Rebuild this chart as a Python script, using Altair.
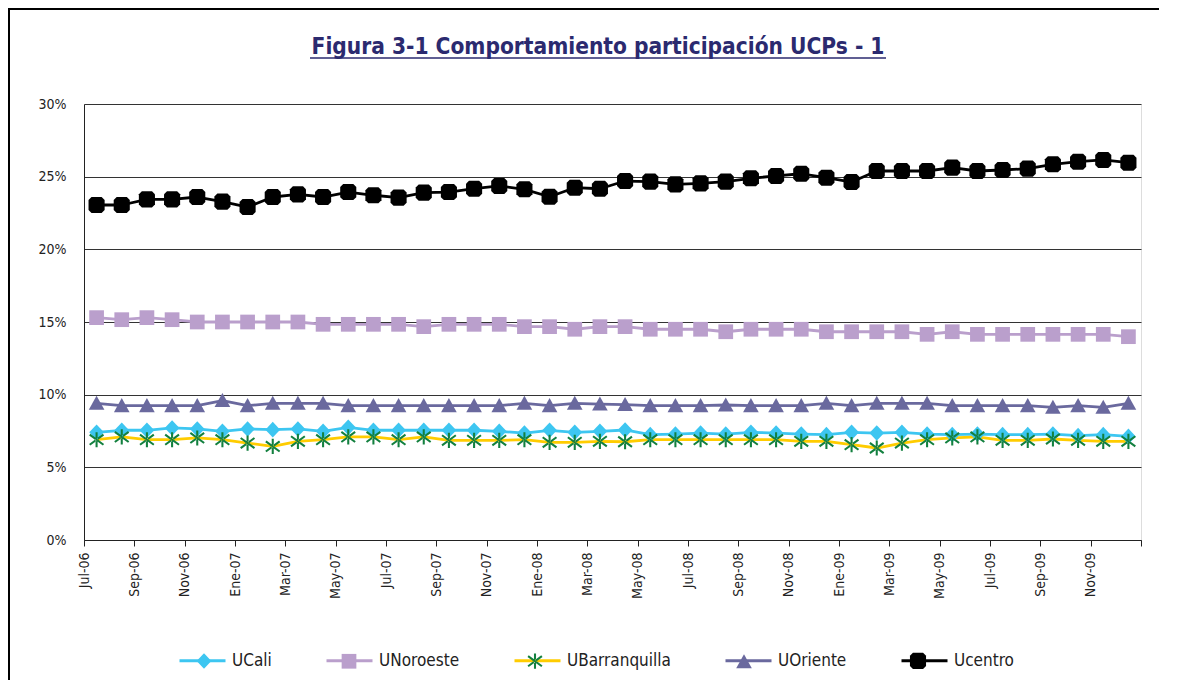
import altair as alt
import pandas as pd

months = ["Jul-06", "Ago-06", "Sep-06", "Oct-06", "Nov-06", "Dic-06",
          "Ene-07", "Feb-07", "Mar-07", "Abr-07", "May-07", "Jun-07",
          "Jul-07", "Ago-07", "Sep-07", "Oct-07", "Nov-07", "Dic-07",
          "Ene-08", "Feb-08", "Mar-08", "Abr-08", "May-08", "Jun-08",
          "Jul-08", "Ago-08", "Sep-08", "Oct-08", "Nov-08", "Dic-08",
          "Ene-09", "Feb-09", "Mar-09", "Abr-09", "May-09", "Jun-09",
          "Jul-09", "Ago-09", "Sep-09", "Oct-09", "Nov-09", "Dic-09"]
tick_labels = months[::2]
y_ticks = [0, 5, 10, 15, 20, 25, 30]

series = ["UCali", "UNoroeste", "UBarranquilla", "UOriente", "Ucentro"]

ucali = [7.41, 7.55, 7.55, 7.71, 7.64, 7.48, 7.64, 7.59, 7.64, 7.48, 7.75, 7.55,
         7.55, 7.55, 7.55, 7.55, 7.48, 7.36, 7.55, 7.41, 7.48, 7.57,
         7.25, 7.29, 7.36, 7.29, 7.41, 7.36, 7.29, 7.25, 7.41, 7.36, 7.41, 7.29,
         7.25, 7.29, 7.25, 7.25, 7.29, 7.18, 7.25, 7.13]
unoroeste = [15.30, 15.16, 15.30, 15.16, 15.00, 15.00, 15.00, 15.00, 15.00, 14.84,
             14.84, 14.84, 14.84, 14.68, 14.84, 14.84, 14.84, 14.68, 14.68, 14.50,
             14.68, 14.68, 14.50, 14.50, 14.50, 14.33, 14.50, 14.50, 14.50, 14.33,
             14.33, 14.33, 14.33, 14.15, 14.33, 14.15, 14.15, 14.15, 14.15, 14.15,
             14.15, 13.99]
ubarranquilla = [6.90, 7.09, 6.90, 6.90, 7.02, 6.90, 6.67, 6.44, 6.79, 6.90, 7.09,
                 7.09, 6.90, 7.09, 6.86, 6.86, 6.86, 6.90, 6.72, 6.72, 6.79, 6.76,
                 6.90, 6.90, 6.90, 6.90, 6.90, 6.90, 6.79, 6.79, 6.56, 6.33, 6.67,
                 6.90, 7.02, 7.09, 6.86, 6.86, 6.95, 6.86, 6.79, 6.79]
uoriente = [9.40, 9.24, 9.24, 9.24, 9.24, 9.59, 9.24, 9.40, 9.40, 9.40, 9.24, 9.24,
            9.24, 9.24, 9.24, 9.24, 9.24, 9.40, 9.24, 9.40, 9.35, 9.32,
            9.24, 9.24, 9.24, 9.29, 9.24, 9.24, 9.24, 9.40, 9.24, 9.40, 9.40, 9.40,
            9.24, 9.24, 9.24, 9.24, 9.13, 9.24, 9.13, 9.40]
ucentro = [23.05, 23.05, 23.44, 23.44, 23.60, 23.28, 22.91, 23.60, 23.78, 23.60,
           23.94, 23.72, 23.56, 23.90, 23.94, 24.17, 24.36, 24.13, 23.62, 24.24,
           24.17, 24.70, 24.66, 24.47, 24.54, 24.66, 24.89, 25.05, 25.20, 24.93,
           24.63, 25.39, 25.39, 25.39, 25.62, 25.39, 25.46, 25.55, 25.85, 26.03,
           26.15, 25.96]

line_colors = ["#3DC6F1", "#BA9FCC", "#FFCC00", "#6A699E", "#000000"]
marker_colors = ["#3DC6F1", "#BA9FCC", "#13803F", "#6A699E", "#000000"]
marker_paths = [
    "M0,-0.34L0.32,0L0,0.34L-0.32,0Z",
    "M-0.32,-0.32L0.32,-0.32L0.32,0.32L-0.32,0.32Z",
    ("M-0.045,-0.33L0.045,-0.33L0.045,0.33L-0.045,0.33Z"
     "M-0.3266,-0.1837L-0.2734,-0.2563L0.3266,0.1837L0.2734,0.2563Z"
     "M-0.2734,0.2563L0.3266,-0.1837L0.2734,-0.2563L-0.3266,0.1837Z"),
    "M0,-0.33L0.34,0.28L-0.34,0.28Z",
    "M-0.22,-0.35L0.22,-0.35L0.35,-0.22L0.35,0.22L0.22,0.35L-0.22,0.35L-0.35,0.22L-0.35,-0.22Z",
]

rows = []
for name, vals in zip(series, [ucali, unoroeste, ubarranquilla, uoriente, ucentro]):
    for i, (m, v) in enumerate(zip(months, vals)):
        rows.append({"serie": name, "mes": m, "pos": i + 0.5, "valor": v})
df = pd.DataFrame(rows)

FONT = "'DejaVu Sans Condensed', 'Liberation Sans', Arial, sans-serif"
INK = "#222222"
NAVY = "#2B2A6F"
SW = 2.8

tick_arr = "[" + ",".join(f"'{t}'" for t in tick_labels) + "]"

x_enc = alt.X(
    "pos:Q", title=None,
    scale=alt.Scale(domain=[0, 42], nice=False, zero=False),
    axis=alt.Axis(values=list(range(0, 43, 2)),
                  labelExpr=f"{tick_arr}[datum.value/2] || ''",
                  labelAngle=270, labelAlign="right", labelBaseline="middle",
                  labelPadding=6, labelFont=FONT, labelFontSize=14,
                  labelColor=INK, labelFlush=False, labelOverlap=False,
                  tickSize=6, tickColor=INK, domainColor=INK, grid=False),
)
y_enc = alt.Y(
    "valor:Q", title=None,
    scale=alt.Scale(domain=[0, 30], nice=False, zero=True),
    axis=alt.Axis(values=y_ticks, labelExpr="datum.value + '%'",
                  labelFont=FONT, labelFontSize=14, labelColor=INK,
                  labelPadding=18, tickSize=0, domainColor=INK,
                  grid=True, gridColor="#333333", gridWidth=1),
)

leg_base = dict(title=None, orient="none", legendY=532,
                direction="horizontal", symbolSize=2116, symbolStrokeWidth=SW,
                labelFont=FONT, labelFontSize=17, labelColor=INK, labelOffset=5,
                padding=0, symbolOpacity=1)

lines = alt.Chart(df).mark_line(strokeJoin="round", strokeWidth=SW).encode(
    x=x_enc, y=y_enc,
    color=alt.Color("serie:N", scale=alt.Scale(domain=series, range=line_colors),
                    legend=alt.Legend(symbolType="stroke", legendX=94,
                                      columnPadding=48, **leg_base)),
)

legend_marks = alt.Legend(labelOpacity=0, legendX=95.5, columnPadding=51, **leg_base)
points = alt.Chart(df).transform_calculate(marca="datum.serie").mark_point(
    filled=True, opacity=1, size=2116, strokeWidth=SW
).encode(
    x=x_enc, y=y_enc,
    color=alt.Color("marca:N", scale=alt.Scale(domain=series, range=marker_colors),
                    legend=legend_marks),
    shape=alt.Shape("marca:N", scale=alt.Scale(domain=series, range=marker_paths),
                    legend=legend_marks),
)

deco = alt.Data(values=[{"k": 1}])
frame_top = alt.Chart(deco).mark_rule(color="#000000", strokeWidth=2).encode(
    x=alt.value(-76), x2=alt.value(1075), y=alt.value(-95)
)
frame_left = alt.Chart(deco).mark_rule(color="#000000", strokeWidth=2).encode(
    x=alt.value(-75), y=alt.value(-96), y2=alt.value(580)
)
title = alt.Chart(deco).mark_text(
    text="Figura 3-1 Comportamiento participación UCPs - 1",
    font=FONT, fontSize=22.5, fontWeight="bold", color=NAVY,
    align="center", baseline="alphabetic",
).encode(x=alt.value(514), y=alt.value(-50))
underline = alt.Chart(deco).mark_rule(color=NAVY, strokeWidth=1.5).encode(
    x=alt.value(226), x2=alt.value(802), y=alt.value(-46)
)

chart = alt.layer(frame_top, frame_left, title, underline, lines, points).resolve_scale(
    color="independent", shape="independent"
).resolve_legend(color="independent", shape="independent").properties(
    width=1057, height=436,
    padding={"left": 76, "top": 96, "right": 24, "bottom": 140},
    autosize=alt.AutoSizeParams(type="none"),
).configure_view(stroke=INK, strokeWidth=1).configure(background="white")

chart.save("out.html", embed_options={"renderer": "svg", "actions": False})
